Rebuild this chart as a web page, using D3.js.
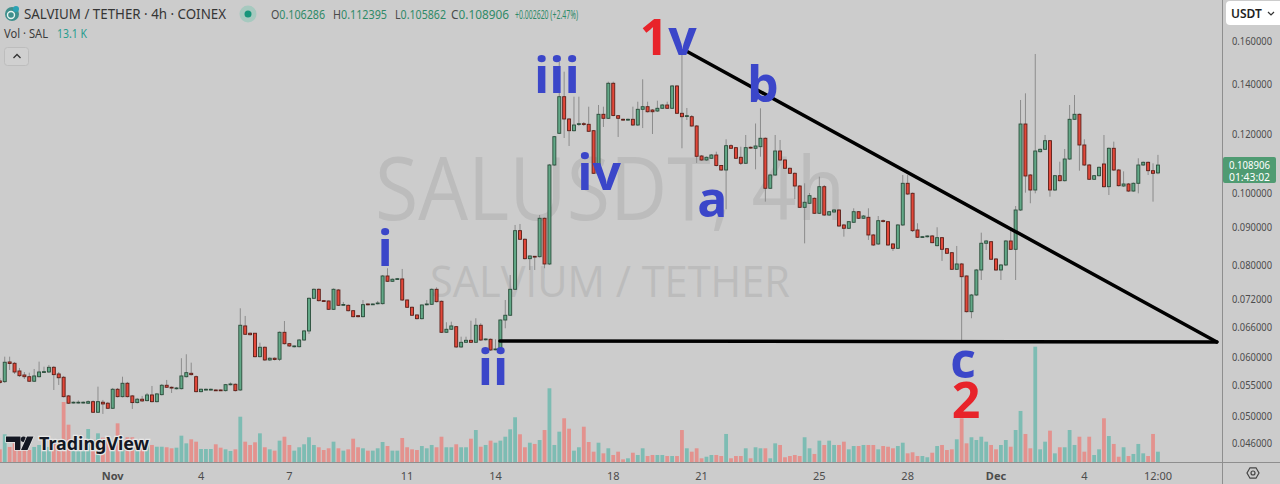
<!DOCTYPE html>
<html><head><meta charset="utf-8">
<script src="https://cdn.jsdelivr.net/npm/d3@7"></script>
<style>
html,body{margin:0;padding:0;background:#cccccc;}
svg{display:block;}
</style></head><body>
<svg id="c" width="1280" height="484"></svg>
<script>
// 4h candles; index 0 = Nov 1 00:00, first visible bar is index -23
const firstIndex = -23;
const open = [
.05576,.05564,.05914,.05890,.05751,.05680,.05650,.05571,.05650,.05725,
.05733,.05817,.05698,.05640,.05323,.05209,.05209,.05209,.05204,.05229,
.05060,.05220,.05204,.05123,.05434,.05311,.05536,.05323,.05214,.05269,
.05246,.05339,.05229,.05344,.05502,.05468,.05444,.05444,.05650,.05710,
.05650,.05394,.05422,.05422,.05422,.05422,.05411,.05512,.05519,.05422,
.06613,.06465,.06465,.06012,.06190,.05951,.05983,.05964,.06484,.06259,
.06201,.06201,.06331,.06511,.07205,.07409,.07152,.07145,.06963,.07393,
.07050,.07050,.06933,.06827,.06806,.07079,.07064,.07086,.07086,.07721,
.07595,.07643,.07650,.07167,.07007,.06842,.06764,.07064,.07072,.07409,
.07138,.06484,.06545,.06598,.06196,.06286,.06325,.06286,.06627,.06337,
.06345,.06144,.06138,.06736,.06836,.07409,.08886,.08652,.08147,.08207,
.08197,.09234,.08014,.10893,.12018,.13462,.12563,.12115,.12350,.12381,
.12358,.12115,.10616,.12747,.12590,.14034,.12692,.12551,.12524,.12551,
.12331,.12946,.13051,.12918,.12878,.12987,.13120,.12987,.13917,.12787,
.12660,.12653,.12293,.11201,.11063,.11122,.11236,.10876,.10725,.11565,
.11494,.11156,.10951,.11508,.11472,.11529,.11834,.10134,.10560,.11376,
.11063,.10782,.10616,.10206,.09553,.09673,.09824,.09378,.10184,.09328,
.09416,.09474,.09044,.08952,.09120,.09424,.09234,.09262,.08768,.08527,
.09165,.09137,.08527,.08413,.09044,.10292,.09977,.08905,.08706,.08722,
.08741,.08482,.08695,.08403,.08299,.07883,.08014,.07721,.06912,.07279,
.07866,.08546,.08587,.08139,.07866,.07989,.08606,.08387,.09474,.12369,
.10560,.10080,.11351,.11436,.11745,.10080,.10537,.10375,.11097,.12551,
.12747,.11590,.10893,.10421,.10537,.10927,.10184,.11472,.10725,.10206,
.10270,.10048,.10292,.10893,.10984,.10702,.106286];
const high = [
.05628,.06012,.06012,.05914,.05805,.05733,.05721,.05787,.05920,.05828,
.05859,.05841,.05733,.05663,.05339,.05233,.05249,.05233,.05249,.05249,
.05478,.05257,.05225,.05456,.05456,.05650,.05559,.05339,.05290,.05323,
.05372,.05490,.05372,.05524,.05593,.05481,.05473,.05983,.06057,.05901,
.05671,.05447,.05447,.05447,.05431,.05431,.05524,.05550,.05533,.06985,
.06821,.06481,.06470,.06279,.06205,.05998,.05998,.06501,.06715,.06273,
.06224,.06351,.06531,.07223,.07428,.07428,.07167,.07156,.07428,.07416,
.07123,.07068,.06948,.06842,.07167,.07090,.07090,.07145,.07745,.07908,
.07662,.07674,.07891,.07178,.07025,.06853,.07068,.07167,.07428,.07454,
.07156,.06689,.06701,.06613,.06396,.06396,.06721,.06772,.06668,.06361,
.06361,.06345,.06747,.07167,.07745,.09044,.09072,.08674,.08227,.08215,
.09328,.09256,.10927,.11918,.14991,.14547,.12602,.13462,.13462,.12446,
.13051,.12141,.13120,.13051,.14104,.14104,.12719,.12583,.12583,.13051,
.13255,.14209,.13255,.12958,.13297,.13161,.13255,.13960,.13960,.15464,
.12999,.12719,.12331,.11236,.11184,.11271,.11352,.10893,.11797,.11615,
.11518,.11529,.11955,.11536,.12389,.12987,.11863,.10593,.11955,.11771,
.11097,.10809,.10643,.10238,.10292,.09987,.09849,.10505,.10238,.09445,
.09504,.09504,.09072,.09157,.09524,.09445,.09328,.09524,.08795,.09299,
.09199,.09157,.08546,.09072,.10560,.10560,.10002,.09092,.08741,.08760,
.08768,.08980,.08714,.08421,.08317,.08474,.08039,.07733,.07302,.07891,
.08831,.08633,.08606,.08164,.08014,.08633,.08980,.09592,.13325,.13604,
.10593,.15368,.11464,.11955,.11771,.10560,.11005,.11447,.13120,.13533,
.12779,.11797,.10927,.10560,.10842,.11955,.11500,.11711,.10759,.10680,
.10302,.10318,.11122,.11011,.11011,.10950,.112395];
const low = [
.05524,.05541,.05769,.05698,.05645,.05610,.05559,.05559,.05636,.05716,
.05716,.05422,.05507,.05298,.05192,.05200,.05200,.05200,.05192,.05049,
.05049,.05034,.05112,.05112,.05298,.05298,.05298,.05112,.05200,.05225,
.05233,.05217,.05217,.05331,.05456,.05372,.05431,.05431,.05636,.05671,
.05381,.05381,.05414,.05414,.05406,.05406,.05397,.05499,.05397,.05406,
.06430,.06420,.05998,.05998,.05933,.05933,.05942,.05933,.06244,.06196,
.06186,.06186,.06312,.06450,.07189,.07134,.07123,.06948,.06948,.07035,
.07035,.06916,.06789,.06789,.06789,.07046,.07057,.07068,.07068,.07579,
.07579,.07626,.07145,.06992,.06821,.06747,.06747,.07046,.07057,.07112,
.06470,.06470,.06531,.06176,.06176,.06273,.06273,.06273,.06312,.06321,
.06119,.06129,.06125,.06565,.06821,.07393,.08633,.08127,.07866,.07866,
.08177,.07908,.07989,.10859,.11992,.11844,.11554,.12085,.12293,.12293,
.12067,.10593,.10593,.12255,.12563,.12668,.11882,.12485,.12485,.12293,
.12293,.12215,.12817,.11992,.12838,.12958,.12958,.12958,.12759,.11472,
.12524,.12266,.10961,.11029,.11029,.11097,.10843,.10692,.09495,.11447,
.11097,.10893,.10927,.11458,.10748,.11177,.09722,.10112,.10528,.11029,
.10759,.10593,.09803,.09533,.08543,.09652,.09357,.09357,.09299,.09299,
.09387,.08988,.08722,.08933,.09100,.09214,.09214,.08633,.08474,.08500,
.09114,.08474,.08343,.08395,.09016,.09925,.08850,.08687,.08687,.08700,
.08546,.08461,.08089,.08266,.07866,.07866,.06331,.06895,.06772,.07257,
.07626,.08369,.08114,.07842,.07626,.07964,.08369,.07626,.09445,.09996,
.09673,.09977,.11323,.11411,.09873,.10049,.10350,.10350,.11063,.12524,
.10702,.10859,.10398,.10398,.10511,.10158,.09925,.10692,.10190,.10174,
.10017,.10027,.09977,.10859,.10560,.09722,.105862];
const close = [
.05550,.05909,.05886,.05733,.05668,.05650,.05571,.05663,.05733,.05739,
.05817,.05686,.05632,.05311,.05204,.05220,.05220,.05220,.05229,.05060,
.05229,.05192,.05123,.05434,.05311,.05536,.05311,.05214,.05269,.05241,
.05339,.05229,.05356,.05502,.05468,.05456,.05456,.05663,.05721,.05686,
.05394,.05434,.05434,.05434,.05411,.05411,.05512,.05524,.05411,.06627,
.06444,.06436,.06012,.06190,.05951,.05983,.05960,.06484,.06259,.06215,
.06215,.06331,.06511,.07205,.07409,.07152,.07138,.06963,.07409,.07050,
.07068,.06933,.06806,.06806,.07064,.07064,.07079,.07101,.07721,.07595,
.07643,.07657,.07167,.07007,.06836,.06764,.07057,.07079,.07409,.07130,
.06484,.06545,.06613,.06196,.06286,.06325,.06286,.06627,.06331,.06351,
.06138,.06157,.06736,.06836,.07409,.08886,.08652,.08147,.08215,.08190,
.09234,.08014,.10893,.11892,.13462,.12563,.12115,.12331,.12381,.12350,
.12093,.10616,.12747,.12590,.14034,.12700,.12590,.12524,.12551,.12331,
.12946,.13051,.12849,.12849,.12987,.13120,.12987,.13917,.12787,.12653,
.12692,.12293,.11191,.11063,.11156,.11236,.10876,.10725,.11565,.11472,
.11122,.10951,.11494,.11483,.11554,.11834,.10134,.10560,.11376,.11063,
.10782,.10616,.10206,.09553,.09704,.09904,.09378,.10184,.09328,.09424,
.09474,.09016,.08952,.09137,.09424,.09234,.09299,.08768,.08500,.09165,
.09142,.08500,.08413,.09044,.10292,.09956,.08886,.08706,.08722,.08741,
.08561,.08695,.08387,.08284,.07883,.08014,.07704,.06912,.07279,.07866,
.08546,.08606,.08132,.07866,.07989,.08606,.08387,.09474,.12369,.10528,
.10080,.11376,.11436,.11745,.10080,.10537,.10375,.11097,.12551,.12747,
.11590,.10893,.10421,.10537,.10815,.10184,.11472,.10725,.10216,.10270,
.10048,.10292,.10893,.10984,.10702,.10616,.108906];
// volume in thousands of SAL
const volume = [
16.1,35.2,19.1,23.7,16.5,19.1,15.2,19.1,21.6,16.5,
19.1,23.7,23.7,76.2,47.4,19.1,21.6,23.7,41.9,27.9,
36.4,30.9,27.9,25.8,49.1,23.7,31.4,31.4,19.1,19.1,
25.8,21.6,19.4,19.4,18.7,17.4,18.2,33.4,23.7,28.8,
25.8,16.5,16.5,16.5,22.5,18.2,16.1,14.0,16.1,57.5,
25.8,21.6,25.0,36.4,18.7,16.1,14.4,27.1,32.1,21.6,
14.4,18.7,22.5,31.4,21.6,18.7,15.2,17.4,25.8,17.4,
14.4,16.1,29.6,18.7,17.4,14.4,14.4,17.4,25.4,20.3,
14.4,14.4,30.5,18.7,16.1,15.2,20.3,17.4,21.6,18.7,
32.1,18.7,18.7,22.5,18.7,18.7,29.6,40.6,19.4,21.6,
27.1,24.5,27.1,32.1,41.5,56.8,35.2,18.7,24.5,22.9,
27.9,40.6,93.6,21.6,38.5,55.5,42.3,14.4,18.7,44.8,
25.4,13.1,24.5,11.0,17.4,8.9,13.1,3.4,4.7,11.8,
8.9,17.4,7.6,8.9,8.9,8.9,7.6,7.6,7.6,40.6,
17.4,13.1,17.4,4.7,6.7,8.9,8.9,7.6,35.6,4.7,
7.6,7.6,17.4,4.7,18.7,17.4,17.4,4.7,23.7,21.6,
6.0,7.6,8.9,7.6,31.4,17.4,10.2,27.1,21.6,27.1,
21.6,21.6,25.8,16.1,20.3,20.3,21.6,21.6,21.6,16.1,
20.3,19.4,17.4,20.3,24.5,11.0,12.3,7.6,7.6,6.0,
11.8,20.3,21.6,15.2,16.1,28.8,55.5,23.7,31.4,27.9,
32.1,25.8,21.6,16.1,21.6,27.9,19.4,40.6,64.8,35.6,
17.4,146.4,16.1,25.8,39.8,11.0,18.7,18.7,40.6,21.6,
32.1,13.1,32.1,8.9,16.1,55.5,33.0,22.9,6.7,18.7,
7.6,10.2,22.9,11.0,7.6,35.6,13.1];
const tickIndex = [0,18,36,60,78,102,120,144,162,180,198,213];
const tickLabels = ["Nov","4","7","11","14","18","21","25","28","Dec","4","12:00"];
const tickBold = ["Nov","Dec"];
const priceTicks = [0.16,0.14,0.12,0.11,0.10,0.09,0.08,0.072,0.066,0.06,0.055,0.05,0.046];
const lastPrice = 0.108906;
const countdown = "01:43:02";
// drawings: wave labels (bar index, price) and trend lines
const waveLabels = [
  {parts:[["1","#e8232a"],["v","#3b46c9"]], k:113.2, p:0.1532},
  {parts:[["iii","#3b46c9"]], k:90.5, p:0.13618},
  {parts:[["iv","#3b46c9"]], k:99.1, p:0.1008},
  {parts:[["a","#3b46c9"]], k:122.2, p:0.09271},
  {parts:[["b","#3b46c9"]], k:132.5, p:0.13243},
  {parts:[["i","#3b46c9"]], k:55.5, p:0.07964},
  {parts:[["ii","#3b46c9"]], k:77.5, p:0.05507},
  {parts:[["c","#3b46c9"]], k:173.3, p:0.05628},
  {parts:[["2","#e8232a"]], k:173.9, p:0.04971}
];
const trendLines = [
  {k1:78.9, p1:0.06312, k2:225.0, p2:0.06292},
  {k1:116.5, p1:0.1556, k2:225.0, p2:0.06292}
];

const svg = d3.select("#c");
const n = open.length;
const idx = d3.range(n).map(i => i + firstIndex);
const x = d3.scaleLinear().domain([0, 180]).range([112.7, 996]);
const y = d3.scaleLog().domain([0.046, 0.16]).range([443, 41]);
const yV = d3.scaleLinear().domain([0, d3.max(volume)]).range([462, 346.7]);
const up = i => close[i] >= open[i];

svg.append("rect").attr("width",1280).attr("height",484).attr("fill","#cccccc");
svg.append("defs").append("clipPath").attr("id","plot")
  .append("rect").attr("x",0).attr("y",0).attr("width",1222).attr("height",462);

// watermark
const wm = svg.append("g").attr("font-family","'Open Sans', sans-serif").attr("fill","#bcbcbc").attr("text-anchor","middle");
wm.append("text").attr("x",610).attr("y",220).attr("font-size",88).attr("textLength",470).attr("lengthAdjust","spacingAndGlyphs").text("SALUSDT, 4h");
wm.append("text").attr("x",610).attr("y",297).attr("font-size",44).attr("textLength",360).attr("lengthAdjust","spacingAndGlyphs").text("SALVIUM / TETHER");

const plot = svg.append("g").attr("clip-path","url(#plot)");
// volume
plot.append("g").selectAll("rect").data(d3.range(n)).join("rect")
  .attr("x", i => x(idx[i]) - 1.9).attr("width", 3.8)
  .attr("y", i => yV(volume[i])).attr("height", i => 462 - yV(volume[i]))
  .attr("fill", i => up(i) ? "#7dbcb3" : "#e3928e");
// wicks
plot.append("g").selectAll("line").data(d3.range(n)).join("line")
  .attr("x1", i => x(idx[i])).attr("x2", i => x(idx[i]))
  .attr("y1", i => y(high[i])).attr("y2", i => y(low[i]))
  .attr("stroke", "#8c8c8c").attr("stroke-width", 1);
// bodies
plot.append("g").selectAll("rect").data(d3.range(n)).join("rect")
  .attr("x", i => x(idx[i]) - 1.5).attr("width", 3)
  .attr("y", i => y(Math.max(open[i], close[i])))
  .attr("height", i => Math.max(0.8, Math.abs(y(open[i]) - y(close[i]))))
  .attr("fill", i => up(i) ? "#62a887" : "#e2483a")
  .attr("stroke", i => up(i) ? "#2b4d3b" : "#5c1f18").attr("stroke-width", 0.9);

// trend lines
plot.append("g").selectAll("line").data(trendLines).join("line")
  .attr("x1", d => x(d.k1)).attr("y1", d => y(d.p1))
  .attr("x2", d => x(d.k2)).attr("y2", d => y(d.p2))
  .attr("stroke", "#000").attr("stroke-width", 3.5).attr("stroke-linecap","round");

// wave labels
const wl = svg.append("g").attr("font-family","'Open Sans', sans-serif").attr("font-weight",700).attr("font-size",50).attr("text-anchor","middle");
waveLabels.forEach(d => {
  const t = wl.append("text").attr("x", x(d.k)).attr("y", y(d.p));
  d.parts.forEach(p => t.append("tspan").attr("fill", p[1]).text(p[0]));
});

// axes frame
svg.append("line").attr("x1",0).attr("x2",1280).attr("y1",462.5).attr("y2",462.5).attr("stroke","#8e8e8e");
svg.append("line").attr("x1",1222.5).attr("x2",1222.5).attr("y1",0).attr("y2",484).attr("stroke","#8e8e8e");

// right axis labels
const ra = svg.append("g").attr("font-family","'Noto Sans', sans-serif").attr("font-size",11).attr("fill","#4d4d4d");
ra.selectAll("text").data(priceTicks).join("text")
  .attr("x",1232).attr("y", d => y(d) + 4)
  .attr("textLength",40).attr("lengthAdjust","spacingAndGlyphs")
  .text(d => d.toFixed(6));
// last price tag
const ly = y(lastPrice);
svg.append("rect").attr("x",1223).attr("y",ly-8).attr("width",53).attr("height",26).attr("rx",2).attr("fill","#4f9b72");
svg.append("text").attr("x",1249.5).attr("y",ly+4).attr("text-anchor","middle").attr("font-family","'Noto Sans', sans-serif")
  .attr("font-size",11).attr("fill","#fff").attr("textLength",41).attr("lengthAdjust","spacingAndGlyphs").text(lastPrice.toFixed(6));
svg.append("text").attr("x",1249.5).attr("y",ly+15.5).attr("text-anchor","middle").attr("font-family","'Noto Sans', sans-serif")
  .attr("font-size",11).attr("fill","#fff").attr("textLength",41).attr("lengthAdjust","spacingAndGlyphs").text(countdown);

// USDT box
svg.append("rect").attr("x",1226).attr("y",1).attr("width",60).attr("height",24).attr("rx",4).attr("fill","#ffffff");
svg.append("text").attr("x",1231).attr("y",17.5).attr("font-family","'Noto Sans', sans-serif").attr("font-size",12).attr("font-weight",600).attr("fill","#1e1e1e").text("USDT");
svg.append("path").attr("d","M1268 12 l3 3 l3 -3").attr("fill","none").attr("stroke","#333").attr("stroke-width",1.2);

// bottom axis labels
const ba = svg.append("g").attr("font-family","'Noto Sans', sans-serif").attr("font-size",11).attr("fill","#4d4d4d").attr("text-anchor","middle");
ba.selectAll("text").data(tickIndex).join("text")
  .attr("x", (d) => x(d)).attr("y", 480)
  .attr("font-weight", (d,i) => tickBold.includes(tickLabels[i]) ? 700 : 400)
  .text((d,i) => tickLabels[i]);

// gear icon
const gx=1253, gy=473;
svg.append("path").attr("d", d3.range(6).map((j)=>{const a=Math.PI/3*j; return (j?"L":"M")+(gx+6*Math.cos(a)).toFixed(2)+" "+(gy+6*Math.sin(a)).toFixed(2);}).join("")+"Z")
  .attr("fill","none").attr("stroke","#444").attr("stroke-width",1.2);
svg.append("circle").attr("cx",gx).attr("cy",gy).attr("r",2).attr("fill","none").attr("stroke","#444").attr("stroke-width",1.2);

// header
const hd = svg.append("g").attr("font-family","'Noto Sans', sans-serif");
hd.append("circle").attr("cx",12).attr("cy",14).attr("r",7).attr("fill","#3f8f8c");
hd.append("circle").attr("cx",11).attr("cy",15).attr("r",3.5).attr("fill","none").attr("stroke","#e8f4f0").attr("stroke-width",1.4);
hd.append("circle").attr("cx",16).attr("cy",9).attr("r",3).attr("fill","#2aa3b5");
hd.append("text").attr("x",24).attr("y",19).attr("font-size",14).attr("fill","#353535")
  .attr("textLength",202).attr("lengthAdjust","spacingAndGlyphs").text("SALVIUM / TETHER · 4h · COINEX");
hd.append("circle").attr("cx",248).attr("cy",14).attr("r",8.5).attr("fill","#a6c9bf");
hd.append("circle").attr("cx",248).attr("cy",14).attr("r",3.5).attr("fill","#16957a");
const ohlc = [["O","0.106286",271,54],["H","0.112395",333,54],["L","0.105862",395,51],["C","0.108906",451,58]];
ohlc.forEach(d => {
  const t = hd.append("text").attr("x",d[2]).attr("y",19).attr("font-size",13)
    .attr("textLength",d[3]).attr("lengthAdjust","spacingAndGlyphs");
  t.append("tspan").attr("fill","#4a4a4a").text(d[0]);
  t.append("tspan").attr("fill","#2f8a68").text(d[1]);
});
hd.append("text").attr("x",515).attr("y",19).attr("font-size",13).attr("fill","#2f8a68")
  .attr("textLength",63).attr("lengthAdjust","spacingAndGlyphs").text("+0.002620 (+2.47%)");
hd.append("text").attr("x",4).attr("y",38).attr("font-size",12).attr("fill","#3c3c3c")
  .attr("textLength",44).attr("lengthAdjust","spacingAndGlyphs").text("Vol · SAL");
hd.append("text").attr("x",57).attr("y",38).attr("font-size",12).attr("fill","#2a9d8f")
  .attr("textLength",30).attr("lengthAdjust","spacingAndGlyphs").text(d3.format(".1f")(volume[n-1]) + " K");
hd.append("rect").attr("x",4.5).attr("y",47.5).attr("width",24).attr("height",18).attr("rx",3).attr("fill","#d0d0d0").attr("stroke","#bdbdbd");
hd.append("path").attr("d","M13.5 58 l3.5 -3.5 l3.5 3.5").attr("fill","none").attr("stroke","#333").attr("stroke-width",1.3);

// TradingView logo
const lg = svg.append("g");
lg.append("path").attr("d","M6 436.5 H20.5 V450 H15 V442 H6 Z").attr("fill","#131722").attr("stroke","#e6e6e6").attr("stroke-width",1.5).attr("paint-order","stroke");
lg.append("circle").attr("cx",23.5).attr("cy",439.2).attr("r",2.7).attr("fill","#131722");
lg.append("path").attr("d","M27 436.5 H33.5 L27.5 450 H21 Z").attr("fill","#131722").attr("stroke","#e6e6e6").attr("stroke-width",1.5).attr("paint-order","stroke");
lg.append("text").attr("x",39).attr("y",449.5).attr("font-family","'Noto Sans', sans-serif").attr("font-weight",700).attr("font-size",18)
  .attr("fill","#131722").attr("stroke","#e6e6e6").attr("stroke-width",2.5).attr("paint-order","stroke")
  .attr("textLength",110).attr("lengthAdjust","spacingAndGlyphs").text("TradingView");
</script>
</body></html>
